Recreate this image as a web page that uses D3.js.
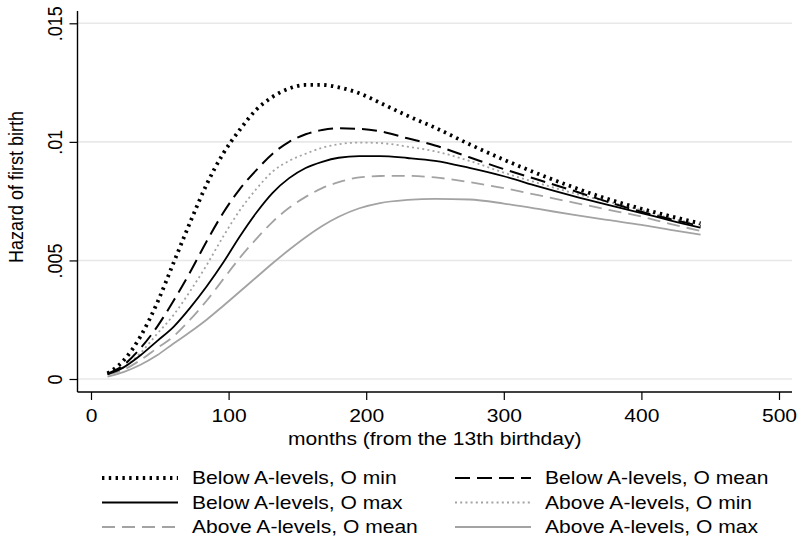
<!DOCTYPE html>
<html><head><meta charset="utf-8">
<script src="https://cdn.jsdelivr.net/npm/d3@7"></script>
<style>body{margin:0;background:#fff}svg{display:block;font-family:"Liberation Sans",Arial,Helvetica,sans-serif}</style>
</head><body><svg id="c" width="800" height="556"></svg>
<script>
const months    = [12,24,36,48,60,72,84,96,108,120,132,144,156,168,180,195,210,230,250,275,300,325,350,375,400,420,443];
const belowMin  = [.00024,.0008,.0018,.0032,.0049,.0066,.0082,.0095,.0105,.01135,.0119,.01225,.0124,.0124,.0123,.01205,.01165,.0111,.0106,.0099,.00925,.00865,.0081,.0076,.00718,.00688,.00656];
const belowMean = [.00022,.0006,.0013,.0022,.0033,.0045,.0058,.0070,.0080,.0088,.0095,.0100,.01032,.0105,.01057,.01055,.01045,.01015,.00985,.00935,.00885,.0084,.00795,.00748,.00705,.00676,.00645];
const belowMax  = [.0002,.0005,.001,.0016,.0022,.0030,.0039,.0049,.0060,.0070,.00785,.00847,.0089,.00916,.00933,.0094,.0094,.00932,.0092,.0089,.00855,.00812,.00772,.00735,.0070,.0067,.00638];
const aboveMin  = [.0002,.0005,.0011,.0019,.0027,.0037,.0048,.0060,.0071,.0080,.00875,.0092,.0095,.00975,.0099,.00997,.00995,.0098,.0096,.0092,.0087,.00826,.00785,.00748,.00712,.0068,.0065];
const aboveMean = [.00018,.0004,.0008,.0013,.0018,.0025,.0033,.0042,.0051,.0059,.00663,.00722,.00768,.00805,.0083,.0085,.00856,.00857,.0085,.0083,.00805,.00775,.00745,.00715,.00685,.00655,.00625];
const aboveMax  = [.0001,.0003,.0006,.001,.0015,.00198,.0025,.00308,.00368,.00428,.00488,.00545,.00598,.00645,.00684,.0072,.00742,.00755,.0076,.00757,.0074,.00717,.00693,.00671,.0065,.0063,.00609];
const seriesNames = ["Below A-levels, O min","Below A-levels, O mean","Below A-levels, O max","Above A-levels, O min","Above A-levels, O mean","Above A-levels, O max"];
const xTicks = [0,100,200,300,400,500];
const yTicks = [0,.005,.01,.015];
const yTickLabels = ["0",".005",".01",".015"];

const series = [
  {name:seriesNames[0], values:belowMin,  color:"#000", width:3.8, dash:"2.4,4.4"},
  {name:seriesNames[1], values:belowMean, color:"#000", width:2,   dash:"15,7"},
  {name:seriesNames[2], values:belowMax,  color:"#000", width:1.8, dash:null},
  {name:seriesNames[3], values:aboveMin,  color:"#a3a3a3", width:1.8, dash:"2,3.2"},
  {name:seriesNames[4], values:aboveMean, color:"#a3a3a3", width:1.8, dash:"13,7"},
  {name:seriesNames[5], values:aboveMax,  color:"#a3a3a3", width:1.8, dash:null}
];

const SX = 1.17, FS = 18;
const svg = d3.select("#c");
const L=77.5, R=792, T=11, B=392;
const x = d3.scaleLinear().domain([0,500]).range([91,779]);
const y = d3.scaleLinear().domain([0,.015]).range([379,23.3]);

// grid
svg.append("g").selectAll("line").data(yTicks).join("line")
  .attr("x1",L).attr("x2",R).attr("y1",d=>y(d)).attr("y2",d=>y(d))
  .attr("stroke","#e8e8e8").attr("stroke-width",1.6);

// axes
const yAxis = d3.axisLeft(y).tickValues(yTicks).tickSize(8).tickFormat((d,i)=>yTickLabels[i]);
const gy = svg.append("g").attr("transform",`translate(${L},0)`).call(yAxis);
gy.select(".domain").attr("d",`M0,${T}V${B}`).attr("stroke","#000").attr("stroke-width",1.4);
gy.selectAll(".tick line").attr("stroke","#000").attr("stroke-width",1.2);
gy.selectAll(".tick text").attr("font-size",FS).attr("fill","#000")
  .attr("transform",`scale(${SX},1) rotate(-90)`).attr("x",0).attr("y",-15.5/SX).attr("dy","0").attr("text-anchor","middle");

const xAxis = d3.axisBottom(x).tickValues(xTicks).tickSize(8).tickFormat(d3.format("d"));
const gx = svg.append("g").attr("transform",`translate(0,${B})`).call(xAxis);
gx.select(".domain").attr("d",`M${L},0H${R}`).attr("stroke","#000").attr("stroke-width",1.4);
gx.selectAll(".tick line").attr("stroke","#000").attr("stroke-width",1.2);
gx.selectAll(".tick text").attr("font-size",FS).attr("fill","#000").attr("y",17).attr("dy","0.71em")
  .attr("transform",`scale(${SX},1)`);

svg.append("text").attr("transform",`translate(${(L+R)/2},445) scale(${SX},1)`).attr("text-anchor","middle")
  .attr("font-size",FS).text("months (from the 13th birthday)");
svg.append("text").attr("transform",`translate(23,187) scale(${SX},1) rotate(-90)`).attr("text-anchor","middle")
  .attr("font-size",FS).text("Hazard of first birth");

// lines
const line = d3.line().curve(d3.curveMonotoneX);
const plot = svg.append("g");
[...series].reverse().forEach(s=>{
  plot.append("path").attr("d",line(months.map((m,i)=>[x(m),y(s.values[i])])))
    .attr("fill","none").attr("stroke",s.color).attr("stroke-width",s.width)
    .attr("stroke-dasharray",s.dash).attr("stroke-linejoin","round");
});

// legend
const lg = svg.append("g");
series.forEach((s,i)=>{
  const col=i%2, row=Math.floor(i/2);
  const lx = col===0?102:455, ly = 478+row*24.5;
  lg.append("line").attr("x1",lx).attr("x2",lx+76).attr("y1",ly).attr("y2",ly)
    .attr("stroke",s.color).attr("stroke-width",s.width).attr("stroke-dasharray",s.dash);
  lg.append("text").attr("transform",`translate(${lx+90},${ly}) scale(${SX},1)`).attr("dy","0.36em")
    .attr("font-size",FS).text(s.name);
});
</script></body></html>
